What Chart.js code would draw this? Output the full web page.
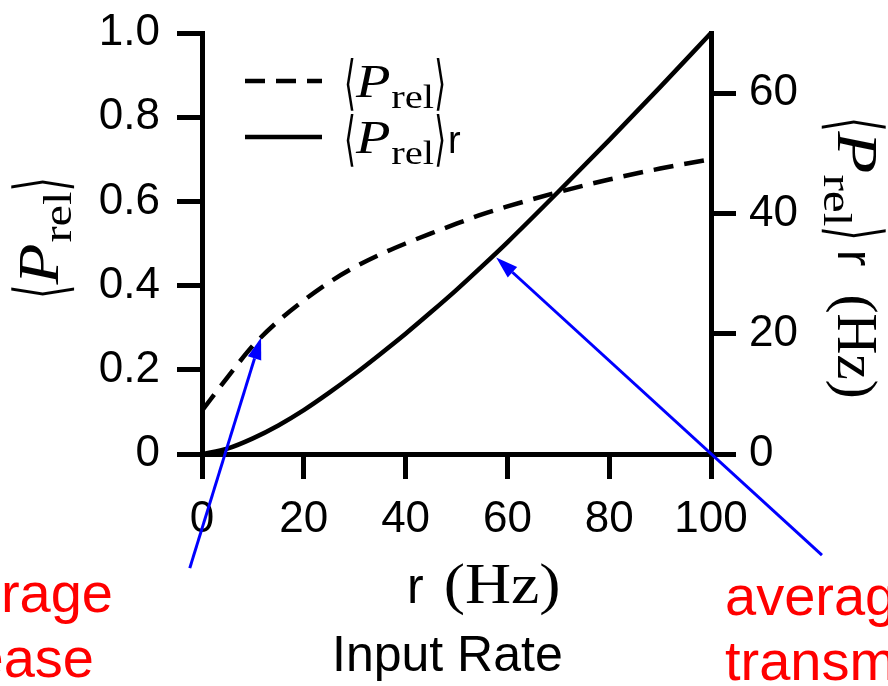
<!DOCTYPE html>
<html lang="en">
<head>
<meta charset="UTF-8">
<title>Release probability vs input rate</title>
<script src="https://cdn.jsdelivr.net/npm/chart.js"></script>
<style>
  html, body { margin: 0; padding: 0; background: #fff; }
</style>
</head>
<body>
<canvas id="relChart" width="888" height="686"></canvas>
<script>
// input rate r (Hz)
const rates = [0, 5, 10, 15, 20, 25, 30, 35, 40, 45, 50, 55, 60, 70, 80, 90, 100];
// <P_rel>, left axis (dashed)
const pRel = [0.103, 0.182, 0.257, 0.316, 0.365, 0.408, 0.444, 0.474, 0.500, 0.524, 0.547, 0.569, 0.588, 0.622, 0.652, 0.678, 0.700];
// <P_rel> r in Hz, right axis (solid)
const pRelRate = [0, 0.9, 2.6, 4.75, 7.3, 10.2, 13.3, 16.6, 20.0, 23.6, 27.3, 31.2, 35.2, 43.6, 52.2, 61.0, 70.0];

const xTicks = [0, 20, 40, 60, 80, 100];
const leftTicks = [0, 0.2, 0.4, 0.6, 0.8, 1.0];
const rightTicks = [0, 20, 40, 60];

// blue arrows, in data units (r, P_rel)
const arrowTails = [[-2.4, -0.271], [121.8, -0.24]];
const arrowHeads = [[11.6, 0.277], [57.8, 0.467]];

const sans = "'Liberation Sans', Arial, Helvetica, sans-serif";
const serif = "'Liberation Serif', 'Times New Roman', serif";
const brk = "'DejaVu Sans', sans-serif";

// draw a row of text pieces (for the math-ish labels)
function drawPieces(ctx, pieces, x, y, align) {
    let total = 0;
    pieces.forEach(p => {
        ctx.font = p.font;
        p.w = ctx.measureText(p.text).width * (p.sx || 1) + (p.gap || 0) + (p.pre || 0);
        total += p.w;
    });
    let cx = align === 'center' ? x - total / 2 : x;
    pieces.forEach(p => {
        ctx.font = p.font;
        ctx.save();
        ctx.translate(cx + (p.pre || 0), y + (p.dy || 0));
        ctx.scale(p.sx || 1, p.sy || 1);
        ctx.fillText(p.text, 0, 0);
        ctx.restore();
        cx += p.w;
    });
}

function prelPieces(size) {
    return [
        { text: '⟨', font: `${size * 0.72}px ${brk}`, sy: 1.75, sx: 0.9, dy: size * 0.12 },
        { text: 'P', font: `italic ${size}px ${serif}`, sx: 1.2, gap: 1 },
        { text: 'rel', font: `${size * 0.72}px ${serif}`, sx: 1.2, dy: size * 0.24 },
        { text: '⟩', font: `${size * 0.72}px ${brk}`, sy: 1.75, sx: 0.9, dy: size * 0.12 }
    ];
}

const overlay = {
    id: 'overlay',
    afterDraw(chart) {
        const ctx = chart.ctx;
        const x = chart.scales.x, y = chart.scales.y;
        const area = chart.chartArea;
        ctx.save();
        ctx.fillStyle = '#000';
        ctx.textBaseline = 'alphabetic';

        // left axis title
        ctx.save();
        ctx.translate(58, 238);
        ctx.rotate(-Math.PI / 2);
        drawPieces(ctx, prelPieces(56), 0, 0, 'center');
        ctx.restore();

        // right axis title
        ctx.save();
        ctx.translate(838, 258);
        ctx.rotate(Math.PI / 2);
        drawPieces(ctx, prelPieces(57).concat([
            { text: 'r', font: `50px ${sans}`, pre: 9, gap: 28 },
            { text: '(Hz)', font: `57px ${serif}` }
        ]), 0, 0, 'center');
        ctx.restore();

        // x title
        drawPieces(ctx, [
            { text: 'r', font: `50px ${sans}`, gap: 20 },
            { text: '(Hz)', font: `58px ${serif}`, sx: 1.1 }
        ], area.left + 205, 603, 'left');
        ctx.font = `50px ${sans}`;
        ctx.textAlign = 'left';
        ctx.fillText('Input Rate', area.left + 130, 671);

        // legend
        const sets = chart.data.datasets;
        const rows = [
            { ds: sets[0], extra: [] },
            { ds: sets[1], extra: [{ text: 'r', font: `38px ${sans}`, pre: 2 }] }
        ];
        rows.forEach((row, i) => {
            const ly = area.top + 48 + i * 56;
            ctx.save();
            ctx.strokeStyle = row.ds.borderColor;
            ctx.lineWidth = row.ds.borderWidth;
            ctx.setLineDash(row.ds.borderDash || []);
            ctx.beginPath();
            ctx.moveTo(area.left + 43, ly);
            ctx.lineTo(area.left + 120, ly);
            ctx.stroke();
            ctx.restore();
            drawPieces(ctx, prelPieces(47).concat(row.extra), area.left + 142, ly + 16, 'left');
        });

        // blue arrows
        ctx.strokeStyle = '#0000ff';
        ctx.fillStyle = '#0000ff';
        ctx.lineWidth = 3;
        arrowTails.forEach((t, i) => {
            const h = arrowHeads[i];
            const x0 = x.getPixelForValue(t[0]), y0 = y.getPixelForValue(t[1]);
            const x1 = x.getPixelForValue(h[0]), y1 = y.getPixelForValue(h[1]);
            const a = Math.atan2(y1 - y0, x1 - x0);
            const len = 22, half = 7;
            const bx = x1 - len * Math.cos(a), by = y1 - len * Math.sin(a);
            ctx.beginPath();
            ctx.moveTo(x0, y0);
            ctx.lineTo(bx, by);
            ctx.stroke();
            ctx.beginPath();
            ctx.moveTo(x1, y1);
            ctx.lineTo(bx + half * Math.sin(a), by - half * Math.cos(a));
            ctx.lineTo(bx - half * Math.sin(a), by + half * Math.cos(a));
            ctx.closePath();
            ctx.fill();
        });

        // red captions, cut off at the canvas edges like the original slide
        ctx.fillStyle = '#ff0000';
        ctx.font = `56px ${sans}`;
        ctx.textAlign = 'right';
        ctx.fillText('average', 113, 612);
        ctx.fillText('release', 94, 677);
        ctx.textAlign = 'left';
        ctx.fillText('average', 725, 615);
        ctx.fillText('transmission', 725, 680);
        ctx.restore();
    }
};

function fixedTicks(list) {
    return scale => { scale.ticks = list.map(v => ({ value: v })); };
}

// fixed axis sizes, and no extra room for labels that stick out at the ends
function fitY(width) {
    return s => { s.width = width; s.paddingTop = 0; s.paddingBottom = 0; };
}

const axisGrid = { drawOnChartArea: false, tickLength: 25, lineWidth: 5, color: '#000', tickColor: '#000', tickWidth: 5 };
const axisBorder = { display: true, color: '#000', width: 5 };
const tickFont = { family: sans, size: 44 };

const ctx = document.getElementById('relChart').getContext('2d');
new Chart(ctx, {
    type: 'line',
    data: {
        datasets: [{
            label: '<P_rel>',
            data: rates.map((r, i) => ({ x: r, y: pRel[i] })),
            yAxisID: 'y',
            borderColor: '#000',
            borderWidth: 4.5,
            borderDash: [20, 11],
            pointRadius: 0,
            cubicInterpolationMode: 'monotone',
            fill: false,
            clip: 10
        }, {
            label: '<P_rel> r',
            data: rates.map((r, i) => ({ x: r, y: pRelRate[i] })),
            yAxisID: 'y2',
            borderColor: '#000',
            borderWidth: 4.5,
            pointRadius: 0,
            cubicInterpolationMode: 'monotone',
            fill: false,
            clip: 10
        }]
    },
    options: {
        responsive: false,
        animation: false,
        layout: { padding: { top: 33, left: 0, right: 0, bottom: 0 } },
        plugins: { legend: { display: false }, tooltip: { enabled: false } },
        scales: {
            x: {
                type: 'linear', min: 0, max: 100,
                afterBuildTicks: fixedTicks(xTicks),
                afterFit: s => { s.height = 232; s.paddingLeft = 0; s.paddingRight = 0; },
                ticks: { color: '#000', font: tickFont, padding: 14, maxRotation: 0, autoSkip: false },
                grid: axisGrid, border: axisBorder
            },
            y: {
                position: 'left', min: 0, max: 1,
                afterBuildTicks: fixedTicks(leftTicks),
                afterFit: fitY(202),
                ticks: { color: '#000', font: tickFont, padding: 17, autoSkip: false,
                    callback: v => v === 0 ? '0' : v.toFixed(1) },
                grid: axisGrid, border: axisBorder
            },
            y2: {
                position: 'right', min: 0, max: 70,
                afterBuildTicks: fixedTicks(rightTicks),
                afterFit: fitY(177),
                ticks: { color: '#000', font: tickFont, padding: 13, autoSkip: false },
                grid: axisGrid, border: axisBorder
            }
        }
    },
    plugins: [overlay]
});
</script>
</body>
</html>
